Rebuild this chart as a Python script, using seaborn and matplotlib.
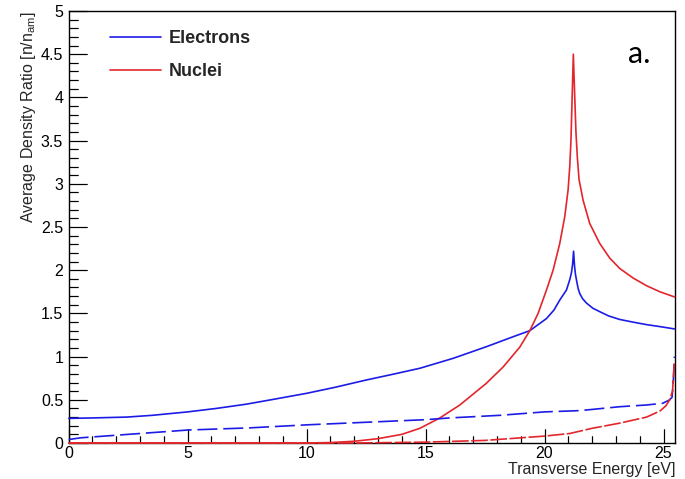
import matplotlib
matplotlib.use("Agg")
import matplotlib.pyplot as plt
from matplotlib.ticker import MultipleLocator, FuncFormatter
from matplotlib.transforms import blended_transform_factory
import seaborn as sns

# ---- data ----
elec_x = [0, 1, 2.44, 3.5, 5, 6.2, 7.48, 8.7, 10, 11.2, 12.52, 13.7, 14.76, 16.16, 17.56,
          18.68, 19.38, 20.08, 20.4, 20.64, 20.92, 21.06, 21.13, 21.18, 21.22, 21.26, 21.3,
          21.34, 21.41, 21.48, 21.6, 21.76, 22.03, 22.32, 22.7, 23.16, 23.7, 24.29, 24.9, 25.47]
elec_y = [0.285, 0.29, 0.30, 0.32, 0.36, 0.40, 0.45, 0.51, 0.575, 0.645, 0.73, 0.80, 0.865,
          0.98, 1.115, 1.23, 1.30, 1.44, 1.54, 1.655, 1.77, 1.89, 1.97, 2.07, 2.22, 2.05, 1.95,
          1.89, 1.79, 1.73, 1.67, 1.62, 1.56, 1.52, 1.47, 1.43, 1.40, 1.37, 1.345, 1.32]

nuc_x = [0, 5, 10, 11, 12, 13, 14, 14.76, 15.6, 16.44, 17.55, 18.26, 18.96, 19.38, 19.73,
         20.08, 20.36, 20.64, 20.85, 20.99, 21.06, 21.11, 21.15, 21.21, 21.27, 21.32, 21.38,
         21.45, 21.62, 21.9, 22.32, 22.74, 23.16, 23.72, 24.29, 24.85, 25.47]
nuc_y = [0, 0, 0, 0.005, 0.02, 0.05, 0.10, 0.17, 0.29, 0.44, 0.69, 0.88, 1.11, 1.30, 1.50,
         1.77, 2.0, 2.31, 2.62, 2.93, 3.2, 3.5, 3.9, 4.5, 4.0, 3.6, 3.3, 3.05, 2.81, 2.54,
         2.31, 2.14, 2.02, 1.91, 1.82, 1.75, 1.69]

elec_d_x = [0, 0.5, 1, 2, 3, 5, 7.6, 10, 12.5, 15, 16, 18.1, 20, 21.5, 23.16, 24.29, 24.97,
            25.26, 25.36, 25.42, 25.46]
elec_d_y = [0.04, 0.06, 0.07, 0.09, 0.11, 0.15, 0.175, 0.21, 0.24, 0.27, 0.29, 0.32, 0.36, 0.375,
            0.42, 0.44, 0.46, 0.50, 0.53, 0.75, 1.0]

nuc_d_x = [0, 12, 15, 17.5, 20, 21.06, 22.0, 23.16, 24.29, 24.85, 25.1, 25.26, 25.38, 25.45]
nuc_d_y = [0, 0, 0.01, 0.03, 0.08, 0.11, 0.17, 0.23, 0.30, 0.37, 0.43, 0.50, 0.60, 0.92]

series_labels = ["Electrons", "Nuclei"]
x_label = "Transverse Energy [eV]"
y_label = r"Average Density Ratio [n/n$_{\mathrm{am}}$]"
panel_tag = "a."

BLUE = "#1c1ce6"
RED = "#e3262c"

sns.set_theme(style="ticks", rc={"axes.edgecolor": "black", "axes.linewidth": 1.0})
plt.rcParams["font.family"] = ["Liberation Sans", "DejaVu Sans"]
plt.rcParams["mathtext.fontset"] = "custom"
plt.rcParams["mathtext.rm"] = "Liberation Sans"

fig = plt.figure(figsize=(6.85, 4.79), dpi=100)
W, H = 685, 479
x0p, x1p, y0p, y1p = 68.7, 675.4, 443, 11
ax = fig.add_axes([x0p / W, (H - y0p) / H, (x1p - x0p) / W, (y0p - y1p) / H])

sns.lineplot(x=elec_x, y=elec_y, ax=ax, color=BLUE, lw=1.2, estimator=None, sort=False)
l_e = ax.lines[-1]
sns.lineplot(x=nuc_x, y=nuc_y, ax=ax, color=RED, lw=1.2, estimator=None, sort=False)
l_n = ax.lines[-1]
sns.lineplot(x=elec_d_x, y=elec_d_y, ax=ax, color=BLUE, lw=1.2, estimator=None, sort=False)
ax.lines[-1].set_dashes([12, 3.5])
sns.lineplot(x=nuc_d_x, y=nuc_d_y, ax=ax, color=RED, lw=1.2, estimator=None, sort=False)
ax.lines[-1].set_dashes([10, 1.5])
for ln in ax.lines:
    ln.set_clip_on(False)
    ln.set_zorder(3)

ax.set_xlim(0, 25.5)
ax.set_ylim(0, 5)

ax.xaxis.set_major_locator(MultipleLocator(5))
ax.xaxis.set_minor_locator(MultipleLocator(1))
ax.yaxis.set_major_locator(MultipleLocator(0.5))
ax.yaxis.set_minor_locator(MultipleLocator(0.1))
fmt = FuncFormatter(lambda v, p: "%g" % v)
ax.xaxis.set_major_formatter(fmt)
ax.yaxis.set_major_formatter(fmt)
ax.tick_params(axis="both", which="both", direction="in", top=False, right=False,
               left=True, bottom=True, colors="black", labelsize=11.5, width=0.8)
ax.tick_params(axis="y", which="major", length=13, pad=4)
ax.tick_params(axis="y", which="minor", length=6.5)
ax.tick_params(axis="x", which="major", length=10, pad=2)
ax.tick_params(axis="x", which="minor", length=5)

# explicit inward tick marks at the locator positions (ROOT style)
xmin, xmax = ax.get_xlim()
ymin, ymax = ax.get_ylim()
tx = blended_transform_factory(ax.transData, ax.transAxes)
ty = blended_transform_factory(ax.transAxes, ax.transData)
ax_h_px = y0p - y1p
ax_w_px = x1p - x0p
xmaj = [v for v in ax.xaxis.get_majorticklocs() if xmin <= v <= xmax]
xmin_l = [v for v in ax.xaxis.get_minorticklocs() if xmin <= v <= xmax]
ymaj = [v for v in ax.yaxis.get_majorticklocs() if ymin <= v <= ymax]
ymin_l = [v for v in ax.yaxis.get_minorticklocs() if ymin <= v <= ymax]
ax.vlines(xmaj, 0, 14 / ax_h_px, transform=tx, colors="black", lw=0.8, clip_on=False, zorder=2.6)
ax.vlines(xmin_l, 0, 7 / ax_h_px, transform=tx, colors="black", lw=0.8, clip_on=False, zorder=2.6)
ax.hlines(ymaj, 0, 18 / ax_w_px, transform=ty, colors="black", lw=0.8, clip_on=False, zorder=2.6)
ax.hlines(ymin_l, 0, 9 / ax_w_px, transform=ty, colors="black", lw=0.8, clip_on=False, zorder=2.6)
ax.set_xlim(xmin, xmax)
ax.set_ylim(ymin, ymax)

ax.set_ylabel(y_label, fontsize=11.5, loc="top")
ax.yaxis.set_label_coords(-0.067, 1.0)
ax.yaxis.label.set_va("center")
ax.set_xlabel(x_label, fontsize=11.5, loc="right")
ax.xaxis.set_label_coords(1.0, -0.062)
ax.xaxis.label.set_va("center")

ax.legend(handles=[l_e, l_n], labels=series_labels, loc="upper left",
          bbox_to_anchor=(110 / W, 1 - 30 / H), bbox_transform=fig.transFigure,
          frameon=False, prop={"weight": "bold", "size": 13}, handlelength=2.8,
          handletextpad=0.45, labelspacing=0.9, borderpad=0, borderaxespad=0)

fig.text(628 / W, 1 - 63 / H, panel_tag, fontsize=22, family=["Lato", "DejaVu Sans"],
         va="baseline", ha="left", color="black")

fig.savefig("out.png", dpi=100, facecolor="white")
